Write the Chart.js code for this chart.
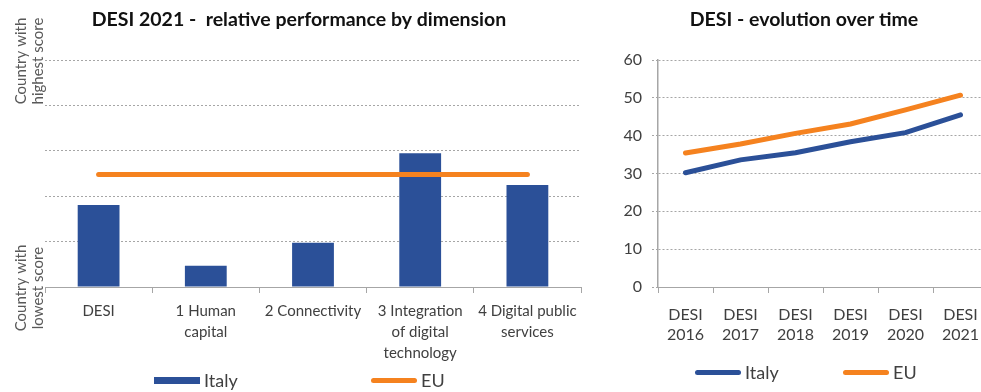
<!DOCTYPE html>
<html>
<head>
<meta charset="utf-8">
<script src="https://cdn.jsdelivr.net/npm/chart.js@4.4.0/dist/chart.umd.min.js"></script>
<style>
    html, body { margin: 0; padding: 0; background: #fff; width: 981px; height: 392px; overflow: hidden; }
    canvas { position: absolute; top: 0; }
    #dimChart { left: 0; }
    #timeChart { left: 590px; }
    .legend-item { position: absolute; display: flex; align-items: center; font-family: Lato, sans-serif; font-size: 18px; color: #404040; white-space: nowrap; }
    .legend-item span.swatch { display: inline-block; margin-right: 4px; }
</style>
</head>
<body>
<canvas id="dimChart" width="600" height="392"></canvas>
<canvas id="timeChart" width="420" height="392"></canvas>
<div id="legends"></div>
<script>
// DESI 2021 - relative performance by dimension (0 = lowest country, 1 = highest)
var dimLabels = [['DESI'], ['1 Human', 'capital'], ['2 Connectivity'], ['3 Integration', 'of digital', 'technology'], ['4 Digital public', 'services']];
var dimItaly = [0.361, 0.094, 0.195, 0.589, 0.449];
var dimEU = [0.496, 0.496, 0.496, 0.496, 0.496];
var edgeLabels = [['Country with', 'highest score'], ['Country with', 'lowest score']];

// DESI score over time
var yearLabels = [['DESI', '2016'], ['DESI', '2017'], ['DESI', '2018'], ['DESI', '2019'], ['DESI', '2020'], ['DESI', '2021']];
var timeItaly = [30.2, 33.6, 35.5, 38.4, 40.8, 45.5];
var timeEU = [35.4, 37.8, 40.6, 43.1, 46.8, 50.7];
var scoreMin = 0;
var scoreMax = 60;
var scoreStep = 10;

var blue = '#2b5098';
var orange = '#f5821f';
var gridColor = '#a6a6a6';
var textColor = '#404040';

var dimChart;
var timeChart;

Chart.defaults.font.family = 'Lato, sans-serif';
Chart.defaults.color = textColor;

// rotated captions at the top and bottom of the relative scale
var edgeLabelPlugin = {
    id: 'edgeLabels',
    afterDraw: function(chart) {
        var y = chart.scales.y;
        var ctx = chart.ctx;
        var spots = [[y.max, edgeLabels[0]], [y.min, edgeLabels[1]]];
        ctx.save();
        ctx.font = '15px Lato, sans-serif';
        ctx.fillStyle = '#595959';
        ctx.textAlign = 'center';
        ctx.textBaseline = 'middle';
        spots.forEach(function(spot) {
            ctx.save();
            ctx.translate(21, y.getPixelForValue(spot[0]) + 1);
            ctx.rotate(-Math.PI / 2);
            spot[1].forEach(function(line, i) {
                ctx.fillText(line, 0, i * 17);
            });
            ctx.restore();
        });
        ctx.restore();
    }
};

function dimChartConfig() {
    dimChart = new Chart(document.getElementById('dimChart'), {
        type: 'bar',
        data: {
            labels: dimLabels,
            datasets: [
                {
                    label: 'Italy',
                    data: dimItaly,
                    backgroundColor: blue,
                    barPercentage: 0.39,
                    categoryPercentage: 1,
                    order: 1
                },
                {
                    type: 'line',
                    label: 'EU',
                    data: dimEU,
                    borderColor: orange,
                    backgroundColor: orange,
                    borderWidth: 5,
                    borderCapStyle: 'round',
                    pointRadius: 0,
                    fill: false,
                    order: 0
                }
            ]
        },
        options: {
            responsive: false,
            animation: false,
            layout: { padding: { left: 17, right: 19, top: 0, bottom: 0 } },
            plugins: {
                legend: { display: false },
                tooltip: { enabled: false },
                title: {
                    display: true,
                    text: 'DESI 2021 -  relative performance by dimension',
                    color: '#111',
                    font: { size: 19.5, weight: 'bold', lineHeight: 1.2 },
                    padding: { top: 8.3, bottom: 28.3 }
                }
            },
            scales: {
                x: {
                    offset: true,
                    grid: { offset: true, drawOnChartArea: false, drawTicks: true, tickLength: 6, color: gridColor },
                    border: { display: true, color: gridColor, width: 1 },
                    ticks: { color: textColor, font: { size: 15, lineHeight: 1.43 }, padding: 7, maxRotation: 0, autoSkip: false },
                    afterFit: function(scale) { scale.height = 105; }
                },
                y: {
                    min: 0,
                    max: 1,
                    ticks: { display: false, stepSize: 0.2 },
                    grid: { color: gridColor, drawTicks: false, lineWidth: 1 },
                    border: { display: false, dash: [2, 2] },
                    afterFit: function(scale) { scale.width = 28; }
                }
            }
        },
        plugins: [edgeLabelPlugin]
    });
}

function timeChartConfig() {
    timeChart = new Chart(document.getElementById('timeChart'), {
        type: 'line',
        data: {
            labels: yearLabels,
            datasets: [
                {
                    label: 'Italy',
                    data: timeItaly,
                    borderColor: blue,
                    backgroundColor: blue,
                    borderWidth: 5,
                    borderCapStyle: 'round',
                    pointRadius: 0,
                    tension: 0,
                    fill: false
                },
                {
                    label: 'EU',
                    data: timeEU,
                    borderColor: orange,
                    backgroundColor: orange,
                    borderWidth: 5,
                    borderCapStyle: 'round',
                    pointRadius: 0,
                    tension: 0,
                    fill: false
                }
            ]
        },
        options: {
            responsive: false,
            animation: false,
            layout: { padding: { left: 30, right: 22, top: 0, bottom: 0 } },
            plugins: {
                legend: { display: false },
                tooltip: { enabled: false },
                title: {
                    display: true,
                    text: 'DESI - evolution over time',
                    color: '#111',
                    font: { size: 19.5, weight: 'bold', lineHeight: 1.2 },
                    padding: { top: 8.3, bottom: 28.3 }
                }
            },
            scales: {
                x: {
                    offset: true,
                    grid: { offset: true, drawOnChartArea: false, drawTicks: true, tickLength: 6, color: gridColor },
                    border: { display: true, color: gridColor, width: 1 },
                    ticks: { color: textColor, font: { size: 16, lineHeight: 1.25 }, padding: 12, maxRotation: 0, autoSkip: false },
                    afterFit: function(scale) { scale.height = 105; }
                },
                y: {
                    min: scoreMin,
                    max: scoreMax,
                    ticks: { stepSize: scoreStep, color: textColor, font: { size: 16 }, padding: 10 },
                    grid: { color: gridColor, drawTicks: true, tickLength: 6, tickBorderDash: [2, 2], lineWidth: 1 },
                    border: { display: true, color: gridColor, width: 1.5, dash: [2, 2] },
                    afterFit: function(scale) { scale.width = 38; }
                }
            }
        }
    });
}

// HTML legends built from each chart's datasets
function buildLegend(chart, lefts, top) {
    var holder = document.getElementById('legends');
    chart.data.datasets.forEach(function(ds, i) {
        var item = document.createElement('div');
        item.className = 'legend-item';
        item.style.left = lefts[i] + 'px';
        item.style.top = top + 'px';
        var sw = document.createElement('span');
        sw.className = 'swatch';
        sw.style.width = '46px';
        var isLine = (ds.type || chart.config.type) === 'line';
        sw.style.height = isLine ? '5px' : '7px';
        sw.style.borderRadius = isLine ? '3px' : '0';
        sw.style.background = isLine ? ds.borderColor : ds.backgroundColor;
        item.appendChild(sw);
        item.appendChild(document.createTextNode(ds.label));
        holder.appendChild(item);
    });
}

dimChartConfig();
timeChartConfig();
buildLegend(dimChart, [154, 371], 369);
buildLegend(timeChart, [695, 843], 361);
</script>
</body>
</html>
